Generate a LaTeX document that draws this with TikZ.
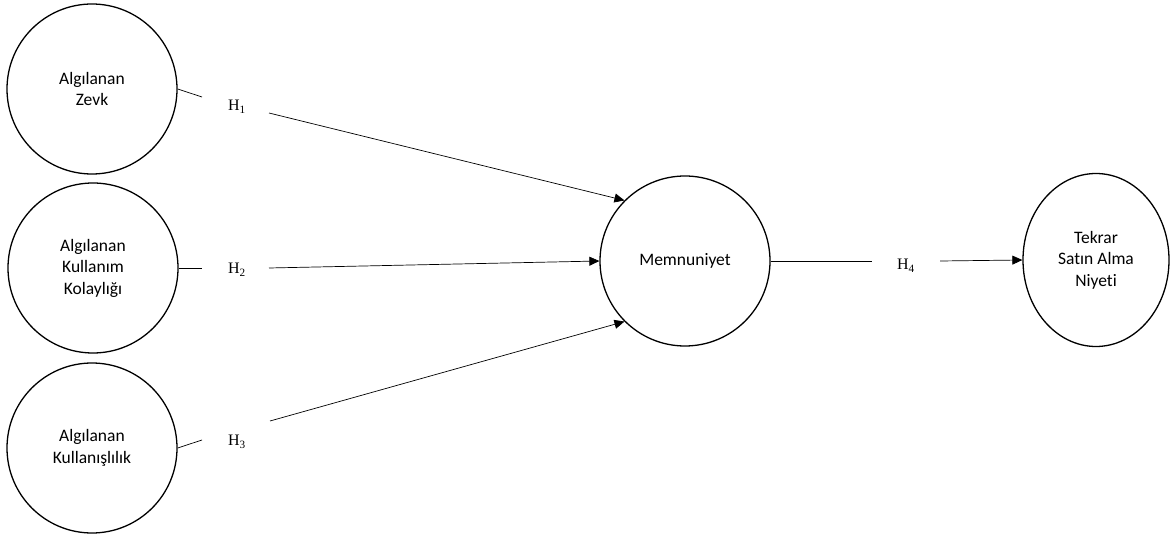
\documentclass[tikz,border=0pt]{standalone}
\usepackage{fontspec}
\newfontfamily\calfont[Ligatures={NoCommon,NoRare}]{Carlito}
\newfontfamily\hfont{Liberation Serif}
\usetikzlibrary{arrows.meta,shapes.geometric}
\begin{document}
\begin{tikzpicture}[x=1pt,y=1pt,
  construct/.style={draw, line width=1.3pt, circle, minimum size=170pt, inner sep=0pt, align=center,
    font=\calfont\fontsize{17.5}{21.5}\selectfont},
  hlabel/.style={inner sep=0pt, font=\hfont\fontsize{16}{19}\selectfont},
  conn/.style={line width=0.7pt},
  arr/.style={conn, -{Triangle[length=10pt,width=9pt]}}]
\useasboundingbox (0,0) rectangle (1170,-534);
\node[construct] (c1) at (92,-89) {Algılanan\\Zevk};
\node[construct] (c2) at (93,-268) {Algılanan\\Kullanım\\Kolaylığı};
\node[construct] (c3) at (92,-448) {Algılanan\\Kullanışlılık};
\node[construct] (mem) at (685,-261) {Memnuniyet};
\node[construct, ellipse, minimum size=0pt, minimum width=146pt, minimum height=173pt] (tsn) at (1096,-260) {Tekrar\\Satın Alma\\Niyeti};
\node[hlabel] (h1) at (237,-107) {H\textsubscript{1}};
\node[hlabel] (h2) at (237,-270) {H\textsubscript{2}};
\node[hlabel] (h3) at (237,-442) {H\textsubscript{3}};
\node[hlabel] (h4) at (906,-266) {H\textsubscript{4}};
\coordinate (g1a) at (202,-97);
\coordinate (g1b) at (269,-113);
\coordinate (g2a) at (202,-268);
\coordinate (g2b) at (269,-268);
\coordinate (g3a) at (202,-440);
\coordinate (g3b) at (270,-421);
\coordinate (g4a) at (872,-261);
\coordinate (g4b) at (940,-261);
\draw[conn] (c1.east) -- (g1a);
\draw[arr] (g1b) -- (mem.135);
\draw[conn] (c2.east) -- (g2a);
\draw[arr] (g2b) -- (mem.west);
\draw[conn] (c3.east) -- (g3a);
\draw[arr] (g3b) -- (mem.225);
\draw[conn] (mem.east) -- (g4a);
\draw[arr] (g4b) -- (tsn.west);
\end{tikzpicture}
\end{document}
